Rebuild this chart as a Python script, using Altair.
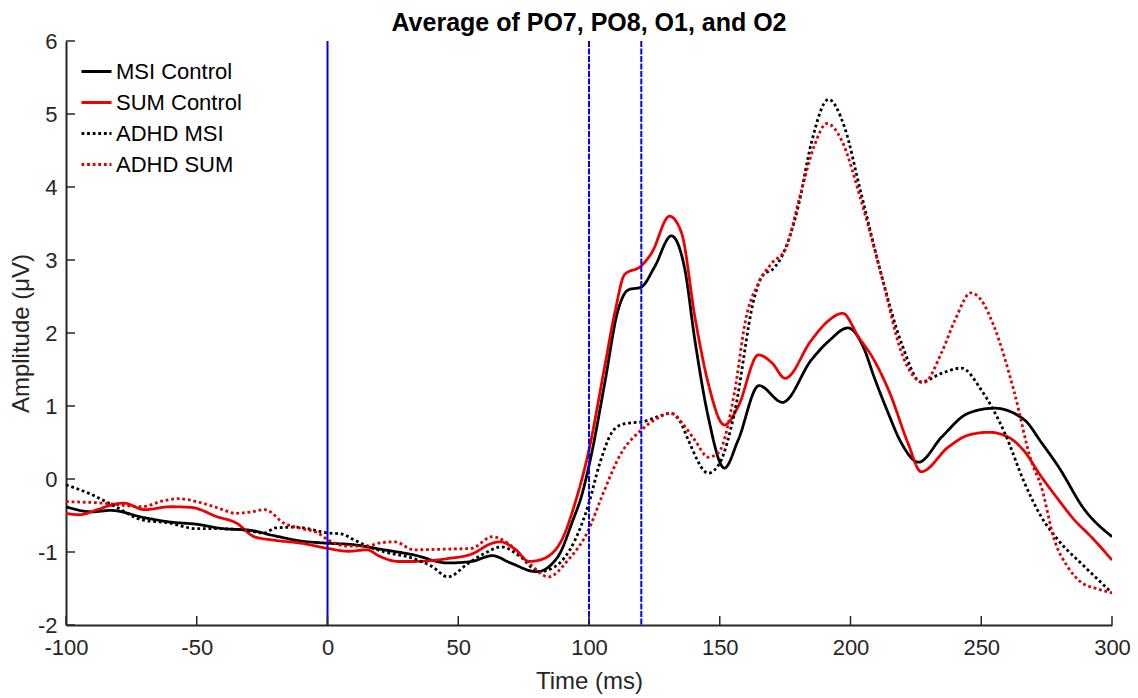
import altair as alt
import pandas as pd

# ---------------- data ----------------
series_names = ["MSI Control", "SUM Control", "ADHD MSI", "ADHD SUM"]

t_msi_ctrl = [-100, -90, -83, -70, -60, -50, -40, -30, -20, -10, 0, 10, 20, 33, 46, 55, 63, 70, 80, 88,
              94, 97, 101, 106, 111, 115, 120, 125, 131.5, 136.5, 140.5, 145.6, 151.8, 157, 165, 174, 185,
              192, 199, 205, 209, 214, 219.5, 226, 235, 245, 255, 266.5, 273, 279.5, 289.5, 300]
v_msi_ctrl = [-0.38, -0.45, -0.43, -0.53, -0.59, -0.62, -0.68, -0.70, -0.78, -0.85, -0.88, -0.90, -0.96,
              -1.04, -1.15, -1.13, -1.05, -1.15, -1.27, -1.07, -0.55, -0.25, 0.35, 1.31, 2.30, 2.59, 2.63,
              2.90, 3.33, 2.90, 1.90, 0.85, 0.15, 0.53, 1.28, 1.05, 1.63, 1.90, 2.07, 1.80, 1.40, 0.94,
              0.49, 0.23, 0.58, 0.90, 0.97, 0.81, 0.50, 0.17, -0.42, -0.79]

t_sum_ctrl = [-100, -95, -88, -83, -78, -70, -60, -52, -42, -35, -28, -20, -10, 0, 8, 15, 20, 27, 33, 46,
              55, 63, 66, 72, 77, 82, 89.5, 95, 100, 106, 110, 113.6, 120, 124, 130.8, 135.4, 140.5,
              145.6, 151.8, 157, 164.8, 170, 175, 185, 191, 197, 203, 209, 215, 222, 227, 237.5, 245, 253,
              260, 266, 273, 279, 285.6, 292, 300]
v_sum_ctrl = [-0.47, -0.49, -0.42, -0.36, -0.33, -0.42, -0.38, -0.39, -0.52, -0.60, -0.79, -0.84, -0.88,
              -0.95, -0.99, -0.97, -1.06, -1.13, -1.13, -1.09, -1.03, -0.88, -0.86, -0.97, -1.13, -1.10,
              -0.84, -0.29, 0.40, 1.54, 2.30, 2.80, 2.92, 3.10, 3.60, 3.37, 2.22, 1.31, 0.74, 0.99,
              1.70, 1.59, 1.38, 1.90, 2.15, 2.27, 1.95, 1.63, 1.18, 0.49, 0.10, 0.44, 0.60, 0.64, 0.58,
              0.40, 0.03, -0.26, -0.56, -0.79, -1.11]

t_adhd_msi = [-100, -91, -81, -71, -61, -50, -42, -32, -24, -20, -12, -5, 0, 5, 10.5, 16, 22, 33, 40, 46,
              54, 60, 66.5, 74, 80.7, 87, 94.6, 99.8, 104, 108.6, 112, 116, 120, 126, 131, 135, 138, 145.6,
              150, 155.6, 163, 166, 171, 173.6, 180, 185, 191.6, 197.7, 204, 212, 219.5, 227, 235, 242.4,
              250, 259, 266.5, 273, 279.5, 289.5, 300]
v_adhd_msi = [-0.08, -0.20, -0.38, -0.56, -0.60, -0.68, -0.68, -0.70, -0.74, -0.67, -0.66, -0.70, -0.74,
              -0.75, -0.84, -0.93, -1.00, -1.09, -1.20, -1.34, -1.15, -1.02, -0.93, -1.07, -1.27, -1.20,
              -0.84, -0.35, 0.20, 0.63, 0.74, 0.77, 0.78, 0.85, 0.90, 0.78, 0.53, 0.08, 0.22, 0.90, 2.45,
              2.77, 2.90, 3.04, 3.73, 4.60, 5.20, 4.82, 3.92, 2.77, 1.86, 1.33, 1.45, 1.52, 1.22, 0.63,
              -0.05, -0.52, -0.84, -1.20, -1.56]

t_adhd_sum = [-100, -86, -71, -63, -57, -48, -40, -35.5, -29, -24, -16.4, -10, -3.6, 0, 8, 15, 19.5, 25.7,
              33, 46, 55, 63, 69, 77, 84.5, 92, 99.8, 104.8, 112.4, 120, 126, 131.5, 136, 140.5, 145.6,
              149.5, 155.6, 160, 164.8, 170, 175, 181, 186, 191, 196.6, 204, 212, 219.5, 228, 234.8, 240,
              246, 250, 255, 262.7, 269, 273, 278, 283, 288, 294, 300]
v_adhd_sum = [-0.31, -0.33, -0.38, -0.30, -0.27, -0.33, -0.42, -0.47, -0.45, -0.42, -0.61, -0.68, -0.74,
              -0.83, -0.92, -0.92, -0.88, -0.86, -0.97, -0.96, -0.95, -0.79, -0.88, -1.15, -1.34, -1.11,
              -0.70, -0.25, 0.36, 0.67, 0.83, 0.90, 0.75, 0.53, 0.30, 0.36, 1.18, 2.20, 2.68, 2.96, 3.14,
              3.92, 4.55, 4.87, 4.64, 3.82, 2.77, 1.73, 1.32, 1.73, 2.18, 2.55, 2.45, 2.08, 1.18, 0.26,
              -0.11, -0.84, -1.20, -1.41, -1.50, -1.56]

solid_markers = [0]
dashed_markers = [100, 120]
x_ticks = [-100, -50, 0, 50, 100, 150, 200, 250, 300]
y_ticks = [-2, -1, 0, 1, 2, 3, 4, 5, 6]

series_colors = ["#000000", "#ee0000", "#000000", "#dd0000"]
series_dashes = [[1, 0], [1, 0], [2.8, 2.8], [2.8, 2.8]]

# ---------------- build tables ----------------
rows = []
for name, ts, vs in zip(series_names,
                        [t_msi_ctrl, t_sum_ctrl, t_adhd_msi, t_adhd_sum],
                        [v_msi_ctrl, v_sum_ctrl, v_adhd_msi, v_adhd_sum]):
    for i, (t, v) in enumerate(zip(ts, vs)):
        rows.append({"series": name, "time": t, "amp": v, "idx": i})
df = pd.DataFrame(rows)

df_solid = pd.DataFrame({"time": solid_markers})
df_dashed = pd.DataFrame({"time": dashed_markers})
df_xt = pd.DataFrame({"time": x_ticks})
df_yt = pd.DataFrame({"amp": y_ticks})

W, H = 1046, 584
FONT = "Liberation Sans"
AX = "#262626"
HYPHEN_LABEL = "datum.value < 0 ? '-' + (-datum.value) : '' + datum.value"

xscale = alt.Scale(domain=[-100, 300], nice=False, zero=False)
yscale = alt.Scale(domain=[-2, 6], nice=False, zero=False)

xaxis = alt.Axis(values=x_ticks, title="Time (ms)", tickSize=0, grid=False,
                 labelExpr=HYPHEN_LABEL,
                 labelFontSize=22, labelFont=FONT, labelColor=AX, labelPadding=12,
                 titleFontSize=24, titleFont=FONT, titleFontWeight="normal",
                 titleColor=AX, titlePadding=11, domainColor=AX, domainWidth=2,
                 labelFlush=False)
yaxis = alt.Axis(values=y_ticks, title="Amplitude (μV)", tickSize=0, grid=False,
                 labelExpr=HYPHEN_LABEL,
                 labelFontSize=22, labelFont=FONT, labelColor=AX, labelPadding=9,
                 titleFontSize=24, titleFont=FONT, titleFontWeight="normal",
                 titleColor=AX, titlePadding=4, domainColor=AX, domainWidth=2,
                 labelFlush=False)

legend = alt.Legend(title=None, orient="none", legendX=14, legendY=14,
                    symbolType="stroke", symbolSize=900, symbolStrokeWidth=2.8,
                    labelFontSize=22, labelFont=FONT, labelColor="#000000",
                    labelOffset=3, rowPadding=3, padding=0)

lines = alt.Chart(df).mark_line(strokeWidth=2.8, interpolate="monotone", clip=True,
                                strokeCap="butt").encode(
    x=alt.X("time:Q", scale=xscale, axis=xaxis),
    y=alt.Y("amp:Q", scale=yscale, axis=yaxis),
    color=alt.Color("series:N", scale=alt.Scale(domain=series_names, range=series_colors),
                    legend=legend),
    strokeDash=alt.StrokeDash("series:N", scale=alt.Scale(domain=series_names, range=series_dashes),
                              legend=legend),
    order=alt.Order("idx:Q"),
)

vsolid = alt.Chart(df_solid).mark_rule(color="#0000ee", strokeWidth=2).encode(
    x=alt.X("time:Q", scale=xscale, axis=xaxis))
vdashed = alt.Chart(df_dashed).mark_rule(color="#0000ee", strokeWidth=2,
                                         strokeDash=[6, 1.5]).encode(
    x=alt.X("time:Q", scale=xscale, axis=xaxis))

xt = alt.Chart(df_xt).mark_rule(color=AX, strokeWidth=1.5).encode(
    x=alt.X("time:Q", scale=xscale, axis=xaxis),
    y=alt.value(H), y2=alt.value(H - 9))
yt = alt.Chart(df_yt).mark_rule(color=AX, strokeWidth=1.5).encode(
    y=alt.Y("amp:Q", scale=yscale, axis=yaxis),
    x=alt.value(0), x2=alt.value(9))

chart = alt.layer(lines, vsolid, vdashed, xt, yt).properties(
    width=W, height=H,
    title=alt.TitleParams("Average of PO7, PO8, O1, and O2", fontSize=25, font=FONT,
                          fontWeight="bold", anchor="middle", frame="group", offset=-6,
                          color="#000000"),
    autosize=alt.AutoSizeParams(type="none"),
    padding={"left": 66, "top": 41, "right": 26, "bottom": 73},
).configure(background="white").configure_view(stroke=None)

chart.save("out.html", embed_options={"renderer": "svg", "actions": False})
